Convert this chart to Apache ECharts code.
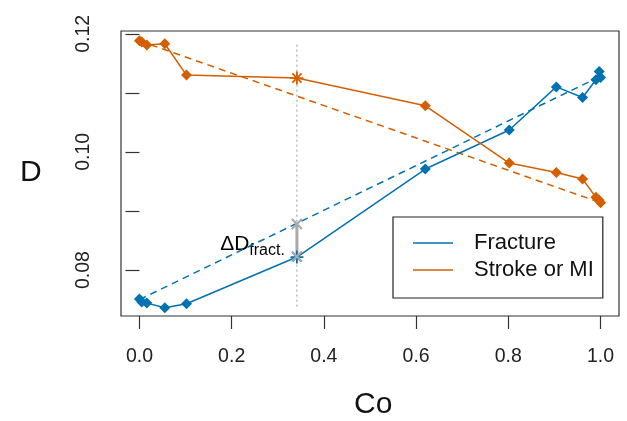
<!DOCTYPE html>
<html>
<head>
<meta charset="utf-8">
<script src="https://cdn.jsdelivr.net/npm/echarts@6/dist/echarts.min.js"></script>
<style>
  html, body { margin: 0; padding: 0; background: #fff; }
  #chart { width: 627px; height: 421px; }
</style>
</head>
<body>
<div id="chart"></div>
<script>
// shared Co values for both outcomes
const coValues = [0, 0.005, 0.016, 0.055, 0.102, 0.3415, 0.62, 0.802, 0.904, 0.961, 0.99, 0.997, 1.0]
const fractureD = [0.0751, 0.0746, 0.0744, 0.0736, 0.0743, 0.0822, 0.0971, 0.1037, 0.1110, 0.1092, 0.1122, 0.1136, 0.1126]
const strokeD = [0.1188, 0.1186, 0.1181, 0.1183, 0.1130, 0.1125, 0.1078, 0.0981, 0.0965, 0.0954, 0.0923, 0.0918, 0.0914]
// straight reference lines between the end points
const fractureRef = [[0, 0.0750], [1, 0.1128]]
const strokeRef = [[0, 0.1188], [1, 0.0914]]
// highlighted Co and the delta for fracture
const starIndex = 5
const deltaCo = 0.3415
const deltaD = [0.0823, 0.0878]
const guideD = [0.0738, 0.1184]
const xTicks = [0, 0.2, 0.4, 0.6, 0.8, 1.0]
const yTicks = [0.08, 0.09, 0.10, 0.11, 0.11999]
const yLabels = [0.08, 0.10, 0.11999]

const BLUE = '#0072B2'
const ORANGE = '#D55E00'
const GREY = '#AAAAAA'
const FONT = 'Liberation Sans, Arial, sans-serif'
const asterisk = 'path://M0,-10L0,10M-10,0L10,0M-7,-7L7,7M-7,7L7,-7'
const cross = 'path://M-10,-10L10,10M-10,10L10,-10'

function points(ys, color) {
  return ys.map((y, i) => {
    if (i === starIndex) {
      return {
        value: [coValues[i], y],
        symbol: asterisk,
        symbolSize: 13,
        itemStyle: { color: 'none', borderColor: color, borderWidth: 1.8 }
      }
    }
    return [coValues[i], y]
  })
}

const chart = echarts.init(document.getElementById('chart'))
chart.setOption({
  animation: false,
  grid: {
    left: 121, top: 31, right: 8, bottom: 105,
    show: true, borderColor: '#333', borderWidth: 1.2
  },
  xAxis: {
    type: 'value', min: -0.04, max: 1.04,
    axisLine: { show: false },
    splitLine: { show: false },
    axisTick: { customValues: xTicks, length: 13, lineStyle: { color: '#333', width: 1.2 } },
    axisLabel: {
      customValues: xTicks, formatter: v => v.toFixed(1),
      margin: 31, fontSize: 19.5, color: '#222', fontFamily: FONT
    }
  },
  yAxis: {
    type: 'value', min: 0.07222, max: 0.12046,
    axisLine: { show: false },
    splitLine: { show: false },
    axisTick: { customValues: yTicks, length: 14, lineStyle: { color: '#333', width: 1.2 } },
    axisLabel: {
      customValues: yLabels, formatter: v => v.toFixed(2), rotate: 90,
      margin: 27, fontSize: 19.5, color: '#222', fontFamily: FONT
    }
  },
  legend: {
    data: [{ name: 'Fracture', icon: 'rect' }, { name: 'Stroke or MI', icon: 'rect' }],
    orient: 'vertical', left: 393, top: 217,
    padding: [15, 9, 17, 20], itemGap: 5,
    itemWidth: 40, itemHeight: 1.5,
    borderColor: '#222', borderWidth: 1.2, borderRadius: 0,
    backgroundColor: '#fff',
    textStyle: { fontSize: 22, lineHeight: 21, color: '#111', fontFamily: FONT, padding: [0, 0, 0, 16] }
  },
  graphic: [
    { type: 'text', left: 20, top: 158, style: { text: 'D', fontSize: 30, fontFamily: FONT, fill: '#111' } },
    { type: 'text', left: 354, top: 390, style: { text: 'Co', fontSize: 30, fontFamily: FONT, fill: '#111' } }
  ],
  series: [
    {
      type: 'line', data: [[deltaCo, guideD[0]], [deltaCo, guideD[1]]],
      symbol: 'none', silent: true,
      lineStyle: { color: '#999', width: 1, type: [2, 3] }
    },
    {
      type: 'line', data: fractureRef, symbol: 'none',
      lineStyle: { color: BLUE, width: 1.5, type: [7, 5] }
    },
    {
      type: 'line', data: strokeRef, symbol: 'none',
      lineStyle: { color: ORANGE, width: 1.5, type: [7, 5] }
    },
    {
      name: 'Fracture', type: 'line', data: points(fractureD, BLUE),
      symbol: 'diamond', symbolSize: 11,
      itemStyle: { color: BLUE }, lineStyle: { color: BLUE, width: 1.5 }
    },
    {
      name: 'Stroke or MI', type: 'line', data: points(strokeD, ORANGE),
      symbol: 'diamond', symbolSize: 11,
      itemStyle: { color: ORANGE }, lineStyle: { color: ORANGE, width: 1.5 }
    },
    {
      type: 'line', data: deltaD.map(d => [deltaCo, d]),
      symbol: cross, symbolSize: 10,
      itemStyle: { color: 'none', borderColor: GREY, borderWidth: 2.2 },
      lineStyle: { color: GREY, width: 3 }
    },
    {
      type: 'scatter', data: [[deltaCo, 0.0841]], symbolSize: 0,
      itemStyle: { opacity: 1 },
      label: {
        show: true, position: 'left', distance: 12,
        color: '#000', textBorderWidth: 0, opacity: 1,
        formatter: '{a|ΔD}{b|fract.}',
        rich: {
          a: { fontSize: 21, lineHeight: 21, verticalAlign: 'top', color: '#000', fontFamily: FONT },
          b: { fontSize: 16, lineHeight: 25, verticalAlign: 'bottom', color: '#000', fontFamily: FONT }
        }
      }
    }
  ]
})
</script>
</body>
</html>
